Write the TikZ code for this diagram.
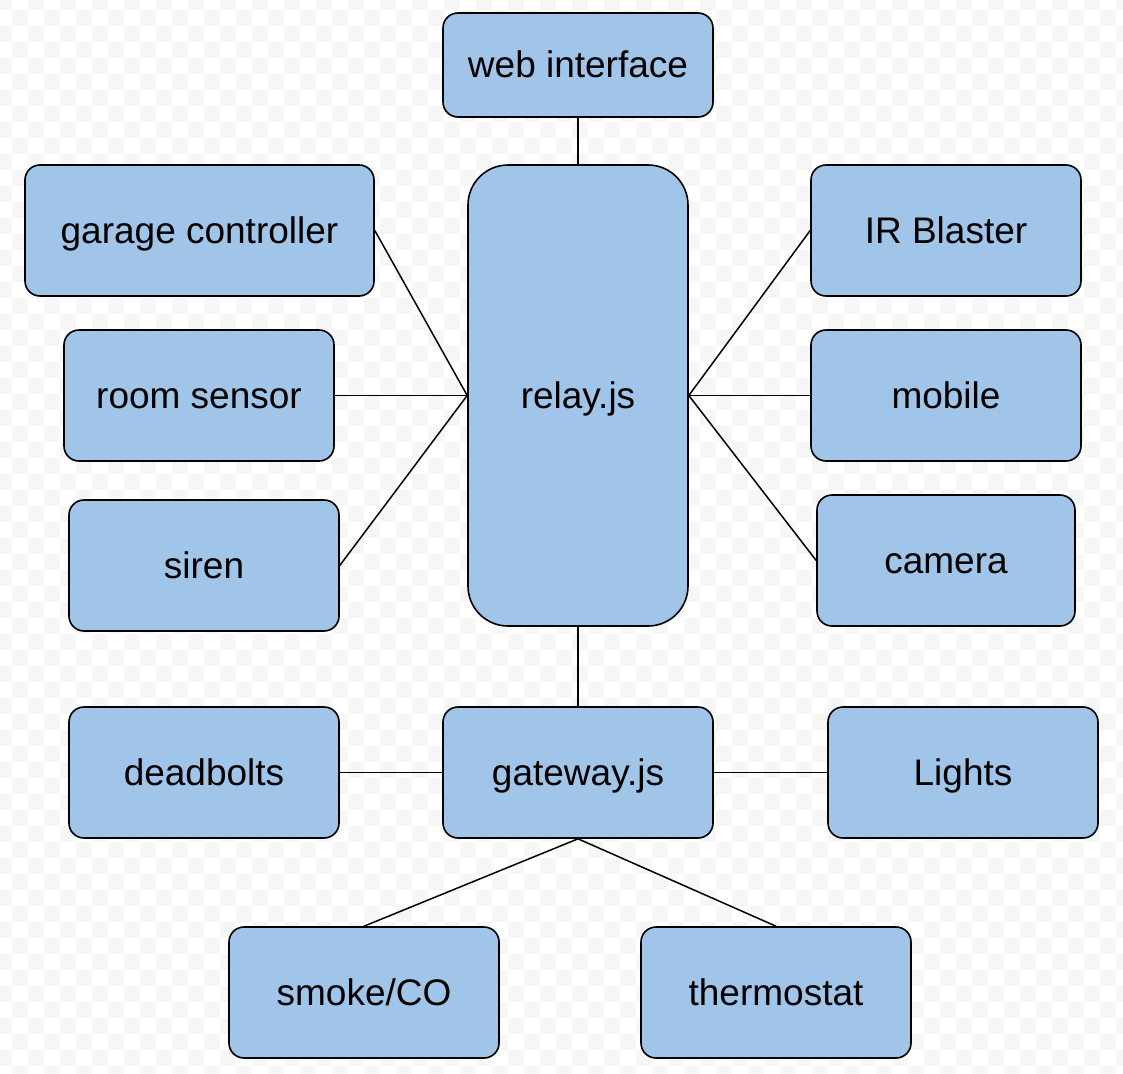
\documentclass[tikz,border=0pt]{standalone}
\usepackage{fontspec}
\setmainfont{Liberation Sans}
\definecolor{boxfill}{RGB}{160,197,232}
\definecolor{chk}{RGB}{246,246,246}
\begin{document}
\begin{tikzpicture}[x=1pt,y=-1pt,
  box/.style={draw=black, line width=1.6pt, fill=boxfill, rounded corners=15pt,
    inner sep=0pt, font=\fontsize{37}{43}\selectfont, text=black,
    text height=33.5pt, text depth=7.8pt},
  link/.style={draw=black, line width=1.5pt}]
\useasboundingbox (0,0) rectangle (1123,1073);
\fill[white] (0,0) rectangle (1123,1073);
\begin{scope}
\clip (0,0) rectangle (1123,1073);
\foreach \j in {0,...,67}{
  \foreach \i in {0,2,...,70}{
    \pgfmathsetmacro\xx{-4+16*(\i+mod(\j,2))}
    \pgfmathsetmacro\yy{-6+16*\j}
    \fill[chk] (\xx,\yy) rectangle ++(16,16);
  }
}
\end{scope}
\node[box, minimum width=270pt, minimum height=104pt] (web) at (578,65) {web interface};
\node[box, rounded corners=40pt, minimum width=220pt, minimum height=461pt] (relay) at (578,395.5) {relay.js};
\node[box, minimum width=349pt, minimum height=131pt] (garage) at (199.5,230.5) {garage controller};
\node[box, minimum width=270pt, minimum height=131pt] (room) at (199,395.5) {room sensor};
\node[box, minimum width=270pt, minimum height=131pt] (siren) at (204,565.5) {siren};
\node[box, minimum width=270pt, minimum height=131pt] (ir) at (946,230.5) {IR Blaster};
\node[box, minimum width=270pt, minimum height=131pt] (mobile) at (946,395.5) {mobile};
\node[box, minimum width=258pt, minimum height=131pt] (camera) at (946,560.5) {camera};
\node[box, minimum width=270pt, minimum height=131pt] (deadbolts) at (204,772.5) {deadbolts};
\node[box, minimum width=270pt, minimum height=131pt] (gateway) at (578,772.5) {gateway.js};
\node[box, minimum width=270pt, minimum height=131pt] (lights) at (963,772.5) {Lights};
\node[box, minimum width=270pt, minimum height=131pt] (smoke) at (364,992.5) {smoke/CO};
\node[box, minimum width=270pt, minimum height=131pt] (thermo) at (776,992.5) {thermostat};
\draw[link] (web.south) -- (relay.north);
\draw[link] (garage.east) -- (relay.west);
\draw[link] (room.east) -- (relay.west);
\draw[link] (siren.east) -- (relay.west);
\draw[link] (ir.west) -- (relay.east);
\draw[link] (mobile.west) -- (relay.east);
\draw[link] (camera.west) -- (relay.east);
\draw[link] (relay.south) -- (gateway.north);
\draw[link] (deadbolts.east) -- (gateway.west);
\draw[link] (gateway.east) -- (lights.west);
\draw[link] (gateway.south) -- (smoke.north);
\draw[link] (gateway.south) -- (thermo.north);
\end{tikzpicture}
\end{document}
